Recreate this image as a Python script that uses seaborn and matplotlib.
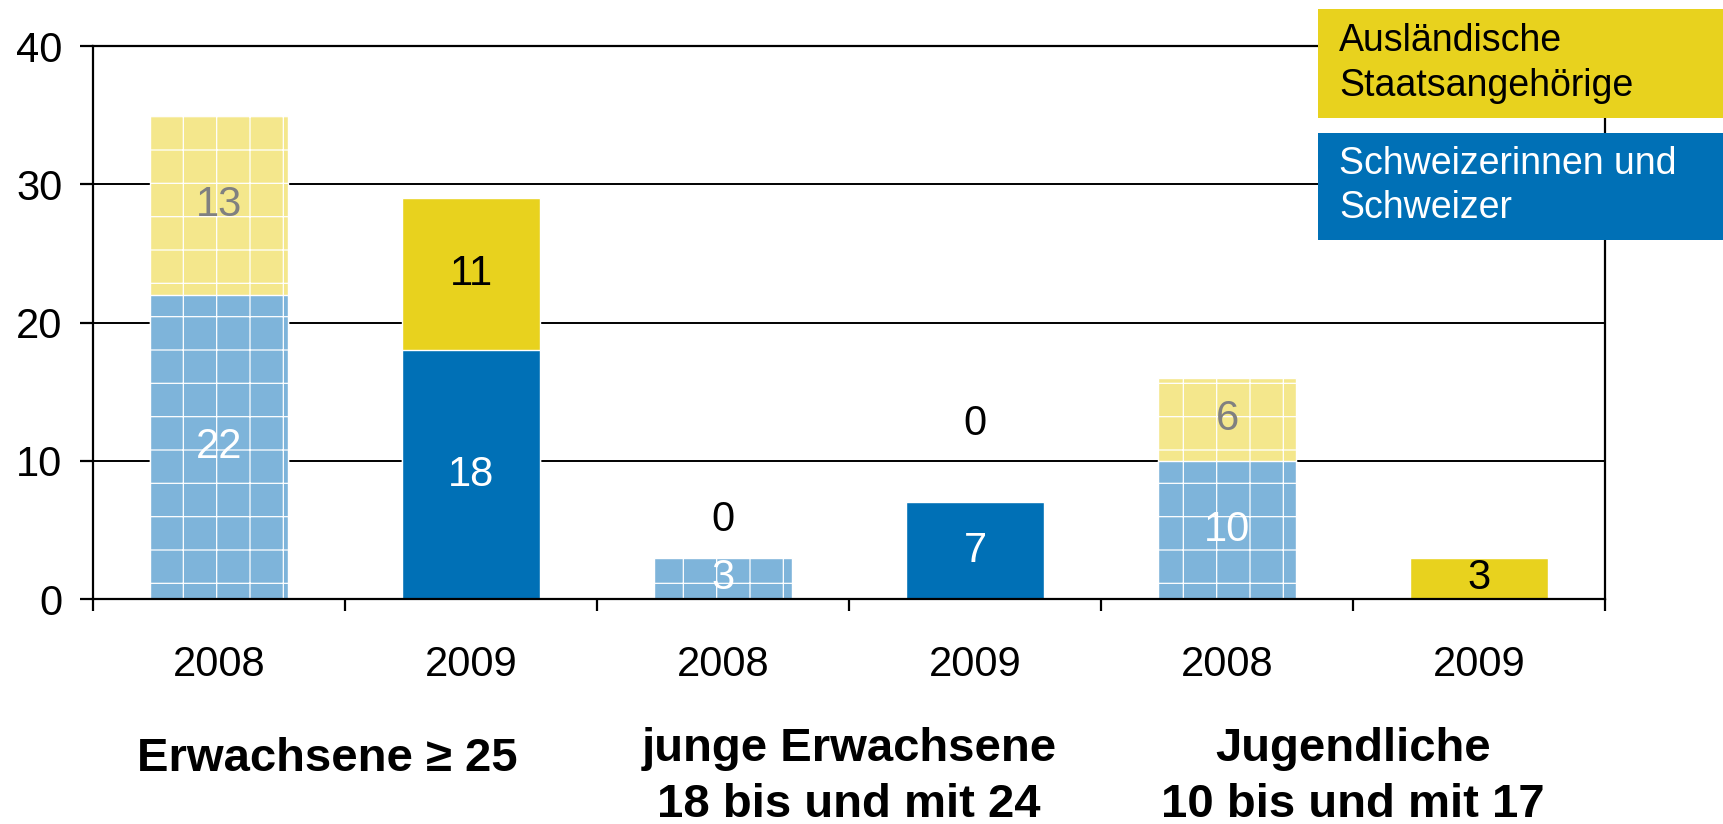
import numpy as np
import pandas as pd
import matplotlib
matplotlib.use("Agg")
import matplotlib.pyplot as plt
import seaborn as sns
from matplotlib.patches import Rectangle

# data
years = ["2008", "2009", "2008", "2009", "2008", "2009"]
schweiz = [22, 18, 3, 7, 10, 0]
ausland = [13, 11, 0, 0, 6, 3]
groups = ["Erwachsene \u2265 25", "junge Erwachsene\n18 bis und mit 24", "Jugendliche\n10 bis und mit 17"]
legend_labels = ["Ausländische\nStaatsangehörige", "Schweizerinnen und\nSchweizer"]

yellow = "#E8D21E"
yellow_light = "#F4E78C"
blue = "#0070B6"
blue_light = "#7EB4DA"

df = pd.DataFrame({
    "slot": [str(i) for i in range(len(years))],
    "jahr": years,
    "schweiz": schweiz,
    "ausland": ausland,
})
df["total"] = df["schweiz"] + df["ausland"]

sns.set_theme(style="white")
plt.rcParams["font.family"] = ["Liberation Sans", "DejaVu Sans"]
plt.rcParams["hatch.linewidth"] = 0.45
plt.rcParams["text.color"] = "black"
plt.rcParams["xtick.color"] = "black"
plt.rcParams["ytick.color"] = "black"

fig = plt.figure(figsize=(8.62, 4.12), dpi=200)
ax = fig.add_axes([0.054, 0.273, 0.877, 0.671])

# gridlines under the bars
ax.set_axisbelow(True)
ax.yaxis.grid(True, color="black", linewidth=0.7)

sns.barplot(data=df, x="slot", y="total", hue="jahr",
            palette={"2008": yellow_light, "2009": yellow}, dodge=False,
            saturation=1, width=0.55, edgecolor="white", linewidth=0.5,
            legend=False, ax=ax)
sns.barplot(data=df, x="slot", y="schweiz", hue="jahr",
            palette={"2008": blue_light, "2009": blue}, dodge=False,
            saturation=1, width=0.55, edgecolor="white", linewidth=0.5,
            legend=False, ax=ax)

# 2008 bars get the white grid pattern
for p in ax.patches:
    i = int(round(p.get_x() + p.get_width() / 2))
    if 0 <= i < len(years) and years[i] == "2008":
        p.set_hatch("+")

# value labels
fs = 15
for i in range(len(years)):
    s, a = schweiz[i], ausland[i]
    light = years[i] == "2008"
    if s > 0:
        ax.text(i, s / 2, str(s), ha="center", va="center", fontsize=fs,
                color="white")
    if a > 0:
        ax.text(i, s + a / 2, str(a), ha="center", va="center", fontsize=fs,
                color="#808080" if light else "black")

# the two zero labels float above the small bars
zero_label_y = {2: 5.7, 3: 12.7}
for i, yy in zero_label_y.items():
    ax.text(i, yy, "0", ha="center", va="center", fontsize=fs, color="black")

ax.set_ylim(0, 40)
ax.set_xlim(-0.5, len(years) - 0.5)
ax.set_yticks([0, 10, 20, 30, 40])
ax.set_xticks(range(len(years)))
ax.set_xticklabels(years)
ax.set_xticks(np.arange(-0.5, len(years), 1.0), minor=True)
ax.set_xlabel("")
ax.set_ylabel("")

ax.tick_params(axis="y", which="major", left=True, length=4.6, width=0.8,
               direction="out", color="black", labelsize=15, pad=6.5)
ax.tick_params(axis="x", which="major", bottom=True, length=0, labelsize=15, pad=16.5)
ax.tick_params(axis="x", which="minor", bottom=True, length=4.3, width=0.8,
               direction="out", color="black")

for side in ["left", "right", "bottom", "top"]:
    ax.spines[side].set_visible(True)
    ax.spines[side].set_color("black")
    ax.spines[side].set_linewidth(0.8)

# group labels below the year ticks
group_x = [0.43, 2.5, 4.5]
group_y = [-0.289, -0.322, -0.322]
for gx, gy, g in zip(group_x, group_y, groups):
    ax.text(gx, gy, g, transform=ax.get_xaxis_transform(), ha="center",
            va="center", fontsize=17, fontweight="bold", linespacing=1.35)

# legend boxes at the top right
box_specs = [(0.7645, 0.857, 0.2355, 0.132, yellow, "black"),
             (0.7645, 0.709, 0.2355, 0.130, blue, "white")]
for (bx, by, bw, bh, col, tcol), lab in zip(box_specs, legend_labels):
    fig.patches.append(Rectangle((bx, by), bw, bh, transform=fig.transFigure,
                                 facecolor=col, edgecolor="none", zorder=5))
    fig.text(bx + 0.0122, by + bh / 2, lab, ha="left", va="center",
             fontsize=13.5, color=tcol, zorder=6, linespacing=1.3)

fig.savefig("out.png", dpi=200)
